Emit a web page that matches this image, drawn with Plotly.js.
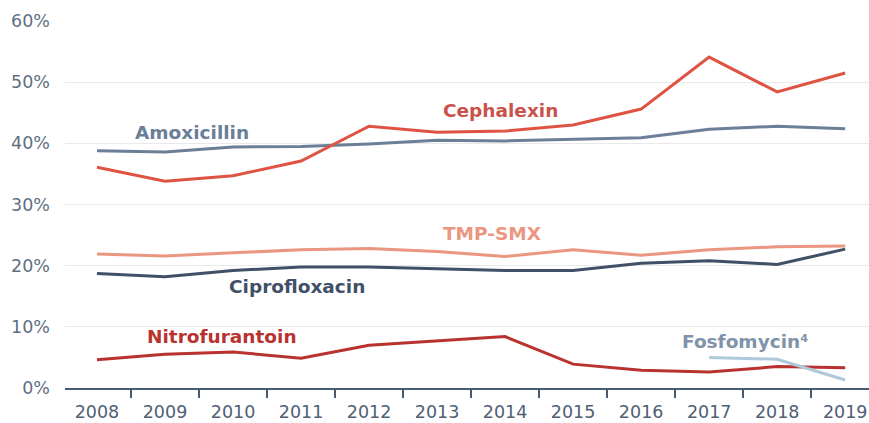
<!DOCTYPE html>
<html><head><meta charset="utf-8">
<script src="https://cdn.plot.ly/plotly-3.0.1.min.js"></script>
<style>html,body{margin:0;padding:0;background:#fff}#chart{width:869px;height:423px}</style>
</head><body><div id="chart"></div>
<script>
const years = ['2008','2009','2010','2011','2012','2013','2014','2015','2016','2017','2018','2019'];
const amoxicillin    = [38.8, 38.6, 39.4, 39.5, 39.9, 40.5, 40.4, 40.7, 40.9, 42.3, 42.8, 42.4];
const cephalexin     = [36.1, 33.8, 34.7, 37.1, 42.8, 41.8, 42.0, 43.0, 45.6, 54.1, 48.4, 51.5];
const tmpSmx         = [21.9, 21.6, 22.1, 22.6, 22.8, 22.3, 21.5, 22.6, 21.7, 22.6, 23.1, 23.2];
const ciprofloxacin  = [18.7, 18.2, 19.2, 19.8, 19.8, 19.5, 19.2, 19.2, 20.4, 20.8, 20.2, 22.7];
const nitrofurantoin = [4.6, 5.5, 5.9, 4.85, 7.0, 7.7, 8.4, 3.9, 2.9, 2.6, 3.5, 3.3];
const fosfoYears     = ['2017','2018','2019'];
const fosfomycin     = [5.0, 4.7, 1.3];
const yTicks = [0,10,20,30,40,50,60];
const yTickText = ['0%','10%','20%','30%','40%','50%','60%'];

function line(x, y, color){
  return {x:x, y:y, type:'scatter', mode:'lines', line:{color:color, width:3}, hoverinfo:'skip', showlegend:false};
}
const C = {amox:'#6b7f99', ceph:'#de5342', tmp:'#eb9680', cipro:'#3f5067', nitro:'#b8332f', fosfo:'#afc8da'};
const data = [
  line(years, tmpSmx, C.tmp),
  line(years, ciprofloxacin, C.cipro),
  line(years, amoxicillin, C.amox),
  line(years, cephalexin, C.ceph),
  line(years, nitrofurantoin, C.nitro),
  line(fosfoYears, fosfomycin, C.fosfo)
];
const F = '"DejaVu Sans", sans-serif';
function ann(text, x, y, color){
  return {text:'<b>'+text+'</b>', x:x, y:y, xref:'x', yref:'y', showarrow:false,
          font:{family:F, size:18.5, color:color}, xanchor:'center', yanchor:'middle'};
}
const layout = {
  width:869, height:423,
  margin:{l:65, r:0, t:21, b:35},
  paper_bgcolor:'#fff', plot_bgcolor:'#fff',
  font:{family:F, color:'#5f6f82'},
  xaxis:{type:'category', categoryorder:'array', categoryarray:years,
         range:[-0.47, 11.35], tickson:'boundaries', ticks:'outside', ticklen:8, tickwidth:2,
         tickcolor:'#4a5a6e', showline:true, linecolor:'#4a5a6e', linewidth:2,
         showgrid:false, zeroline:false, ticklabelstandoff:7,
         tickfont:{family:F, size:17.5, color:'#4f6075'}},
  yaxis:{range:[0,60], tickvals:yTicks, ticktext:yTickText, showgrid:true, gridcolor:'#e9e9e9', gridwidth:1,
         zeroline:false, showline:false, ticks:'', ticklabelstandoff:14,
         tickfont:{family:F, size:17.5, color:'#5f6f82'}},
  annotations:[
    ann('Amoxicillin', 1.40, 41.7, C.amox),
    ann('Cephalexin', 5.93, 45.3, '#c9534b'),
    ann('TMP-SMX', 5.81, 25.2, C.tmp),
    ann('Ciprofloxacin', 2.94, 16.6, C.cipro),
    ann('Nitrofurantoin', 1.84, 8.5, C.nitro),
    ann('Fosfomycin⁴', 9.53, 7.6, '#7f93aa')
  ]
};
Plotly.newPlot('chart', data, layout, {displayModeBar:false, staticPlot:true});
</script></body></html>
